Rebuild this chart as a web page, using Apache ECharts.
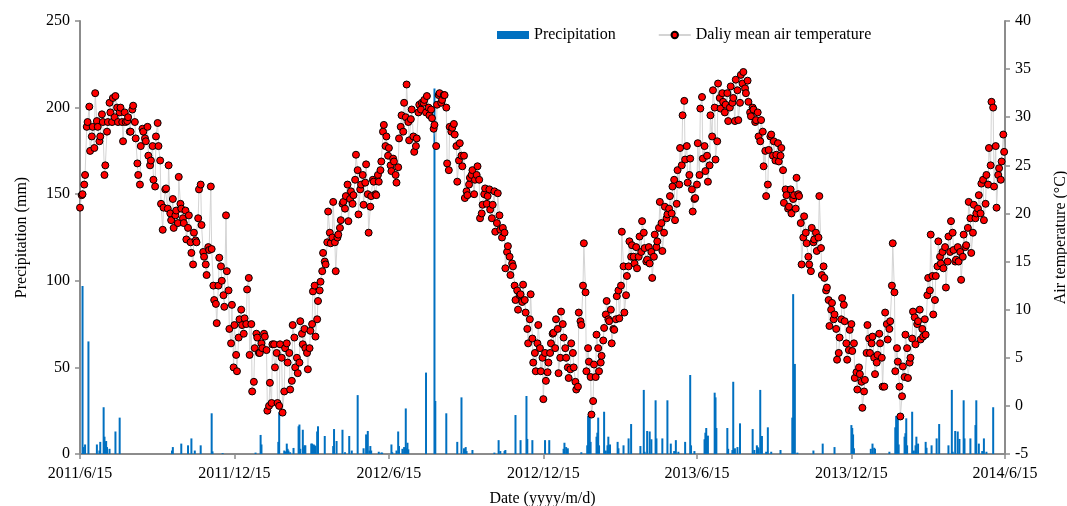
<!DOCTYPE html>
<html>
<head>
<meta charset="utf-8">
<script src="https://cdn.jsdelivr.net/npm/echarts@6/dist/echarts.min.js"></script>
<style>
	html, body { margin: 0; padding: 0; background: #fff; }
	#chart { width: 1067px; height: 506px; }
</style>
</head>
<body>
<div id="chart"></div>
<script>
// x axis is days since 2011/6/15
const startDate = Date.UTC(2011, 5, 15);
const DAY = 86400000;
const tempStep = 3;

// daily mean air temperature (°C) read on days 0, 3, 6, ...
const tempA = [
	20.6, 22.0, 24.0, 29.5, 26.5, 29.0, 32.5, 29.0, 28.0, 29.5,
	25.0, 29.5, 30.5, 32.0, 32.2, 29.5, 31.0, 27.5, 29.5, 30.0,
	28.5, 31.2, 27.8, 24.0, 27.0, 28.5, 27.5, 26.0, 25.5, 23.5,
	28.0, 27.0, 21.0, 20.6, 22.6, 25.0, 19.3, 18.5, 20.3, 23.8,
	20.5, 19.0, 17.3, 19.8, 15.9, 18.0, 17.0, 22.5, 18.8, 15.5,
	13.6, 16.2, 16.3, 11.0, 8.6, 15.4, 13.0, 10.3, 14.0, 8.0,
	10.5, 8.4, 3.6, 9.0, 8.4, 9.1, 12.1, 5.3, 1.5, 6.0,
	7.1, 5.5, 6.0, 7.2, -0.5, 2.4, 6.4, 4.0, 0.3, 6.4,
	-0.7, 6.0, 4.5, 1.7, 8.4, 4.0, 3.4, 8.8, 6.4, 6.0,
	3.8, 7.8, 11.9, 7.2, 10.9, 12.9, 15.9, 14.7, 20.2, 16.9,
	21.2, 14.0, 17.8, 19.3, 21.2, 21.8, 19.2, 22.3, 21.9, 26.1,
	19.9, 23.0, 20.9, 25.1, 18.0, 21.8, 23.3, 21.9, 23.3, 25.4,
	29.2, 28.0, 26.8, 24.4, 25.4, 23.2, 27.8, 30.2, 31.5, 33.4,
	27.6, 30.8, 26.4, 27.8, 31.3, 31.5, 31.8, 32.2, 30.2, 29.9,
	29.2, 31.3, 32.5, 31.8, 32.3, 25.2, 29.0, 28.9, 28.2, 23.3,
	27.3, 24.9, 21.6, 21.9, 23.7, 24.5, 23.5, 24.9, 19.5, 20.9,
	22.6, 21.8, 20.4, 20.9, 18.1, 22.1, 18.3, 18.5, 14.3, 16.6,
	13.6, 14.5, 11.0, 10.0, 11.6, 12.6, 9.7, 6.5, 11.6, 4.5,
	3.6, 8.4, 3.6, 0.7, 2.6, 4.5, 6.5, 7.6, 9.0, 3.4,
	9.8, 7.1, 5.0, 2.9, 6.5, 4.0, 1.7, 9.7, 8.4, 16.9,
	3.6, 4.6, -0.9, 4.3, 7.4, 3.6, 5.2, 8.1, 10.9, 8.8,
	6.5, 7.9, 11.4, 9.1, 18.1, 9.7, 13.5, 17.1, 16.7, 14.8,
	14.3, 17.6, 19.2, 16.4, 15.2, 14.8, 13.3, 17.8, 17.1, 21.2,
	16.1, 20.7, 19.9, 21.8, 22.8, 19.3, 24.5, 26.8, 30.2, 25.6,
	23.2, 25.7, 20.2, 21.6, 27.3, 30.9, 25.7, 24.4, 23.3, 30.2,
	32.8, 25.6, 33.5, 30.9, 31.6, 31.3, 29.6, 33.2, 32.0, 33.9,
	29.7, 34.4, 34.7, 32.5, 31.6, 30.1, 30.8, 29.7, 28.0, 29.7,
	24.9, 21.8, 26.6, 28.2, 27.5, 26.1, 25.4, 26.8, 21.1, 21.9,
	20.7, 20.0, 21.9, 23.7, 21.8, 14.7, 19.7, 16.9, 14.7, 18.5,
	17.3, 16.1, 21.8, 13.6, 13.3, 12.3, 8.3, 10.7, 9.5, 4.8,
	7.1, 11.2, 8.8, 4.8, 7.9, 5.7, 2.9, 1.7, 3.3, -0.2,
	2.7, 8.4, 5.5, 7.2, 3.3, 5.3, 6.5, 2.0, 9.7, 6.9,
	8.8, 16.9, 3.6, 4.6, -1.1, 4.1, 7.4, 2.9, 5.0, 9.8,
	6.4, 8.8, 6.9, 7.2, 7.4, 13.3, 17.8, 9.5, 13.5, 17.1,
	14.8, 14.3, 12.3, 17.6, 19.2, 16.2, 15.2, 15.0, 13.1, 17.8,
	16.7, 21.2, 15.9, 20.9, 20.0, 21.9, 23.1, 19.3, 24.0, 26.8,
	31.6, 22.8, 20.6, 24.7, 25.4, 26.4
];

// second reading on days 2, 5, 8, ...
const tempB = [
	21.9, 23.0, 29.0, 31.1, 28.0, 26.8, 29.6, 27.5, 30.3, 24.0,
	28.5, 31.5, 29.5, 30.0, 31.0, 30.5, 29.5, 30.5, 29.6, 28.5,
	30.8, 29.5, 25.2, 23.0, 28.8, 27.8, 29.0, 25.0, 27.0, 22.8,
	29.4, 25.5, 18.3, 22.5, 20.5, 20.0, 21.5, 19.8, 19.0, 21.0,
	19.5, 20.3, 18.5, 17.0, 14.7, 17.2, 19.5, 23.0, 16.0, 14.7,
	16.5, 22.8, 12.5, 10.6, 12.5, 14.5, 11.5, 19.8, 12.0, 6.5,
	4.0, 5.3, 7.1, 10.0, 7.5, 8.5, 13.3, 8.5, 2.5, 7.5,
	5.5, 6.5, 7.5, 5.8, 0.0, 0.3, 6.4, 5.5, 0.0, 5.0,
	1.5, 6.5, 5.5, 2.6, 7.1, 5.0, 4.5, 7.5, 8.0, 5.5,
	6.0, 8.5, 12.5, 9.0, 12.0, 14.0, 15.0, 17.0, 18.0, 17.5,
	17.0, 17.5, 18.5, 21.0, 20.5, 23.0, 21.5, 21.0, 23.5, 24.5,
	22.5, 24.0, 23.2, 22.0, 20.7, 23.5, 22.0, 24.0, 24.5, 28.5,
	27.0, 26.0, 25.0, 25.7, 24.0, 24.8, 29.0, 28.5, 30.0, 29.5,
	29.8, 28.0, 27.0, 30.5, 30.8, 31.5, 30.5, 31.0, 30.8, 28.8,
	27.0, 32.3, 31.5, 32.3, 31.0, 24.5, 28.5, 29.3, 27.0, 25.5,
	26.0, 26.0, 22.3, 23.0, 24.0, 22.0, 24.0, 23.5, 20.0, 22.0,
	21.0, 22.5, 19.5, 22.3, 19.0, 19.8, 17.5, 18.0, 16.0, 15.5,
	14.8, 12.5, 12.0, 11.5, 10.8, 11.0, 8.0, 9.0, 7.0, 5.5,
	6.5, 6.0, 5.0, 5.5, 3.5, 5.5, 7.5, 6.0, 8.0, 5.0,
	8.5, 6.0, 4.0, 3.8, 5.5, 2.5, 2.0, 8.8, 12.5, 11.8,
	6.0, 3.0, 0.5, 3.0, 6.0, 4.5, 6.8, 9.5, 9.0, 10.0,
	8.0, 9.0, 12.0, 12.5, 14.5, 11.5, 14.5, 15.5, 15.5, 16.5,
	15.5, 16.0, 18.0, 15.0, 16.5, 16.0, 15.5, 16.5, 18.5, 19.0,
	18.0, 19.5, 20.5, 20.0, 23.5, 21.0, 23.0, 25.0, 31.7, 27.0,
	24.0, 22.5, 21.5, 23.0, 24.0, 32.1, 27.0, 26.0, 25.0, 28.0,
	31.0, 27.5, 32.0, 32.5, 30.5, 32.5, 31.0, 31.5, 29.6, 32.8,
	31.5, 33.5, 33.0, 33.8, 30.5, 31.0, 29.5, 30.5, 27.5, 28.5,
	26.5, 23.0, 28.0, 26.0, 25.5, 27.3, 26.0, 24.5, 22.5, 20.5,
	22.5, 21.5, 20.5, 22.0, 19.0, 17.5, 18.0, 15.5, 14.0, 17.0,
	18.0, 17.5, 16.4, 14.5, 12.0, 11.0, 10.0, 9.0, 8.0, 5.5,
	9.0, 10.5, 6.5, 5.8, 8.5, 6.5, 3.5, 4.0, 2.5, 1.5,
	5.5, 7.0, 6.5, 5.0, 4.5, 7.5, 5.0, 2.0, 8.5, 8.0,
	12.5, 11.8, 6.0, 2.0, 1.0, 3.0, 6.0, 4.5, 7.0, 9.2,
	8.5, 10.0, 8.0, 9.0, 11.5, 12.0, 13.5, 11.0, 14.5, 15.5,
	16.0, 16.5, 15.0, 16.0, 18.0, 15.0, 16.5, 16.0, 15.5, 16.5,
	18.5, 19.5, 18.0, 19.5, 20.5, 20.0, 23.5, 21.0, 23.0, 25.0,
	31.0, 27.0, 24.0, 23.5, 28.2
];

// rainy days: offset in days from startDate, and amount (mm)
const rainDay = [
	3, 4, 6, 10, 20, 23, 24, 28, 29, 30, 31, 32, 35, 42, 47, 109, 110, 120, 128, 132,
	136, 143, 156, 157, 169, 208, 214, 215, 235, 236, 242, 243, 245, 246, 247, 249, 253, 259, 260, 261,
	264, 265, 266, 267, 274, 275, 277, 278, 279, 281, 282, 290, 300, 301, 304, 311, 314, 319, 322, 329,
	336, 339, 341, 343, 344, 345, 354, 357, 358, 369, 370, 375, 377, 378, 382, 384, 386, 387, 388, 389,
	410, 420, 421, 434, 447, 452, 455, 457, 458, 465, 491, 496, 498, 503, 504, 516, 522, 529, 530, 536,
	551, 556, 573, 574, 576, 578, 594, 601, 602, 604, 605, 612, 613, 614, 615, 621, 623, 625, 626, 628,
	637, 638, 644, 650, 653, 664, 668, 669, 672, 675, 677, 682, 683, 690, 696, 700, 704, 706, 709, 717,
	723, 724, 728, 740, 741, 742, 744, 752, 753, 754, 767, 768, 773, 774, 776, 779, 782, 797, 799, 802,
	803, 804, 806, 808, 813, 815, 819, 830, 844, 845, 847, 850, 869, 880, 894, 914, 915, 916, 917, 937,
	939, 941, 942, 959, 966, 967, 969, 970, 977, 978, 979, 980, 986, 988, 990, 991, 993, 1002, 1003, 1009,
	1015, 1018, 1029, 1033, 1034, 1037, 1040, 1042, 1047, 1048, 1055, 1061, 1062, 1065, 1069, 1071, 1074, 1082
];
const rainMm = [
	97, 4, 5.5, 65, 5.5, 2, 7, 27, 10, 7, 7.5, 4, 3, 13, 21, 2, 4, 6, 5, 9,
	2, 5, 23.5, 1.5, 0.5, 0.8, 11, 5.5, 7, 24, 2, 1.5, 6, 3, 2, 1, 3.5, 16, 17, 3,
	14, 4, 5, 5, 6, 6, 5.5, 5, 4.6, 13, 16, 10.4, 4.6, 14.4, 7.5, 14, 1, 10.4, 2, 34,
	3.3, 11.3, 13.3, 2, 4.6, 2, 1.3, 0.8, 0.8, 5.5, 1, 2, 13, 4.6, 3, 4, 26.3, 3.3, 6.5, 2.7,
	47, 211, 30.6, 23.5, 7, 32.7, 3.3, 4, 1.7, 2.3, 0.8, 8, 1.7, 1.7, 2.3, 22.5, 8, 33.5, 8.7, 8,
	8, 8, 3, 6.5, 4, 3.3, 1, 5, 22, 21, 7, 10, 12.3, 21, 5, 24.4, 2, 5, 10, 5.5,
	7, 3.3, 5, 9, 17.3, 4.6, 37, 1.3, 13.3, 13, 8.5, 31, 9, 9, 31, 6, 1.7, 8, 1.3, 7,
	45.6, 5, 1.7, 8.5, 12.3, 15, 10.6, 35.4, 32.7, 15, 15, 3, 2.3, 41.7, 3.3, 4, 17.7, 14.4, 2.3, 5,
	4, 3.3, 37, 10.4, 1.3, 15.4, 1.3, 2.3, 21, 92.3, 52, 0.8, 2, 6, 4, 16.7, 15, 11.3, 3.3, 3,
	6, 3.6, 3, 1.3, 15.4, 22, 21, 5.5, 10, 12, 20.6, 5, 24.4, 2, 5, 10, 6, 7, 3.6, 5,
	9, 17.3, 5, 37, 1.3, 13.3, 13, 8.7, 31, 9, 9, 16.7, 31, 6, 1.7, 9, 1.3, 27
];

// x axis labels every half year (day offsets of 6/15 and 12/15)
const tickDays = [0, 183, 366, 549, 731, 914, 1096];
const totalDays = 1096;

const font = "Liberation Serif";
const axisGray = "#8c8c8c";

const chart = echarts.init(document.getElementById("chart"), null, { renderer: "canvas" });

const fmtDay = v => {
	const d = new Date(startDate + Math.round(v) * DAY);
	return d.getUTCFullYear() + "/" + (d.getUTCMonth() + 1) + "/" + d.getUTCDate();
};

// merge the two readings into one series ordered by day
const tempData = [];
tempA.forEach((t, i) => {
	tempData.push([i * tempStep, t]);
	if (i < tempB.length) tempData.push([i * tempStep + 2, tempB[i]]);
});

const yAxisCommon = {
	type: "value",
	splitLine: { show: false },
	axisLine: { show: true, lineStyle: { color: axisGray, width: 2 } },
	axisTick: { show: true, length: 5, lineStyle: { color: axisGray, width: 1.5 } },
	axisLabel: { color: "#000", fontFamily: font, fontSize: 16, margin: 10 },
	nameLocation: "middle",
	nameTextStyle: { color: "#000", fontFamily: font, fontSize: 16 }
};

chart.setOption({
	animation: false,
	backgroundColor: "#fff",
	textStyle: { fontFamily: font },
	grid: { left: 80, right: 62, top: 21, bottom: 52, containLabel: false, outerBoundsMode: "none" },
	legend: {
		left: 492,
		top: 22,
		itemWidth: 32,
		itemHeight: 8,
		itemGap: 42,
		textStyle: { color: "#000", fontFamily: font, fontSize: 16 },
		data: [
			{ name: "Precipitation", icon: "rect" },
			{ name: "Daliy mean air temperature" }
		]
	},
	xAxis: {
		type: "value",
		min: 0,
		max: totalDays,
		name: "Date (yyyy/m/d)",
		nameLocation: "middle",
		nameGap: 37,
		nameTextStyle: { color: "#000", fontFamily: font, fontSize: 16 },
		splitLine: { show: false },
		axisLine: { lineStyle: { color: axisGray, width: 2 } },
		axisTick: { show: true, length: 5, customValues: tickDays, lineStyle: { color: axisGray, width: 1.5 } },
		axisLabel: {
			customValues: tickDays,
			formatter: fmtDay,
			color: "#000",
			fontFamily: font,
			fontSize: 16,
			margin: 12,
			showMinLabel: true,
			showMaxLabel: true
		}
	},
	yAxis: [
		Object.assign({}, yAxisCommon, {
			name: "Precipitation (mm)",
			nameGap: 50,
			min: 0,
			max: 250,
			interval: 50,
			position: "left"
		}),
		Object.assign({}, yAxisCommon, {
			name: "Air temperature (°C)",
			nameGap: 48,
			min: -5,
			max: 40,
			interval: 5,
			position: "right"
		})
	],
	series: [
		{
			name: "Precipitation",
			type: "bar",
			yAxisIndex: 0,
			barWidth: 2,
			itemStyle: { color: "#0070c0" },
			data: rainDay.map((d, k) => [d, rainMm[k]])
		},
		{
			name: "Daliy mean air temperature",
			type: "line",
			yAxisIndex: 1,
			symbol: "circle",
			symbolSize: 7,
			showAllSymbol: true,
			itemStyle: { color: "#ff0000", borderColor: "#000", borderWidth: 1 },
			lineStyle: { color: "#d4d4d4", width: 1 },
			data: tempData
		}
	]
});
</script>
</body>
</html>
